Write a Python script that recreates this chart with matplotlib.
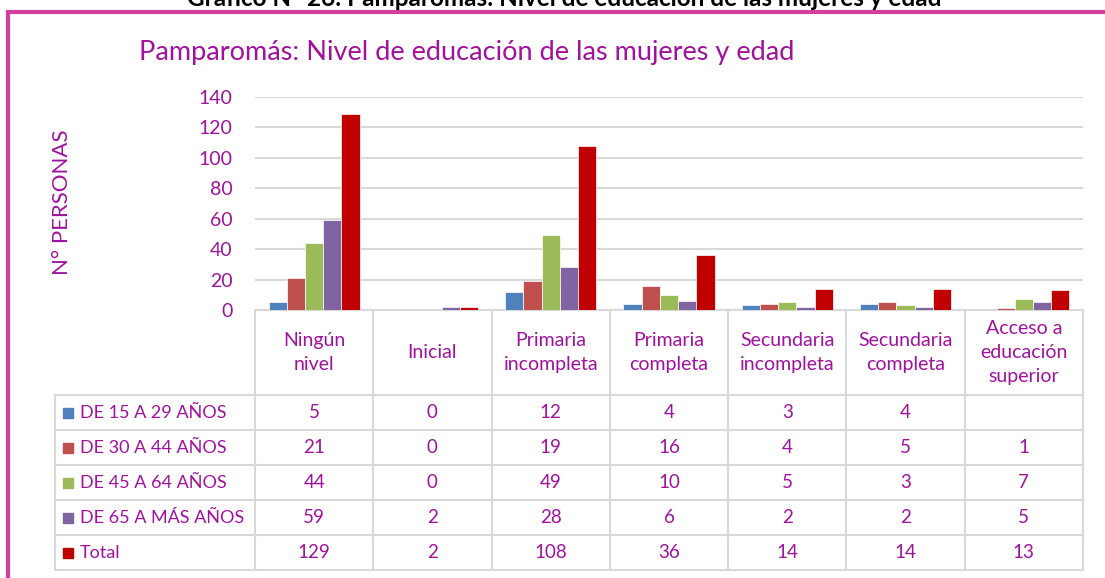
import numpy as np
import matplotlib
matplotlib.use("Agg")
from matplotlib import pyplot as plt
from matplotlib.patches import Rectangle

# Datos
categorias = ["Ningún\nnivel", "Inicial", "Primaria\nincompleta", "Primaria\ncompleta",
              "Secundaria\nincompleta", "Secundaria\ncompleta", "Acceso a\neducación\nsuperior"]
series = ["DE 15 A 29 AÑOS", "DE 30 A 44 AÑOS", "DE 45 A 64 AÑOS", "DE 65 A MÁS AÑOS", "Total"]
de15_29 = [5, 0, 12, 4, 3, 4, np.nan]
de30_44 = [21, 0, 19, 16, 4, 5, 1]
de45_64 = [44, 0, 49, 10, 5, 3, 7]
de65_mas = [59, 2, 28, 6, 2, 2, 5]
total = [129, 2, 108, 36, 14, 14, 13]
valores = [de15_29, de30_44, de45_64, de65_mas, total]
colores = ["#4F81BD", "#C0504D", "#9BBB59", "#8064A2", "#C00000"]
yticks = [0, 20, 40, 60, 80, 100, 120, 140]

txt = "#A0129E"
gris = "#D9D9D9"
fuente = "Lato"
W, H = 1105, 578

fig = plt.figure(figsize=(W / 100, H / 100), dpi=100)

# marco
fig.patches.append(Rectangle((8 / W, -0.05), 1.2, 1 - 12 / H + 0.05, transform=fig.transFigure,
                             fill=False, edgecolor="#D23F9F", lw=3))
fig.text(564 / W, 1 + 1 / H, "Gráfico N° 26: Pamparomás: Nivel de educación de las mujeres y edad",
         ha="center", va="center", fontsize=17.5, fontweight="bold", color="black", family=fuente)

# grafico de barras
ax = fig.add_axes([255 / W, 1 - 310 / H, (1083 - 255) / W, (310 - 97) / H])
n = len(categorias)
x = np.arange(n) + 0.5
ancho = 0.154
for k, (s, v, c) in enumerate(zip(series, valores, colores)):
    ax.bar(x + (k - 2) * ancho, v, ancho, color=c, edgecolor="white", lw=0.5, zorder=3)
ax.set_xlim(0, n)
ax.set_ylim(0, 140)
ax.set_yticks(yticks)
ax.set_xticks([])
ax.yaxis.grid(True, color=gris, lw=1.5, zorder=0)
for sp in ["top", "right", "left"]:
    ax.spines[sp].set_visible(False)
ax.spines["bottom"].set_color(gris)
ax.spines["bottom"].set_linewidth(1.5)
ax.tick_params(axis="y", length=0, pad=16, labelcolor=txt, labelsize=14)
for t in ax.get_yticklabels():
    t.set_family(fuente)
ax.set_title("Pamparomás: Nivel de educación de las mujeres y edad", color=txt, fontsize=19.5,
             family=fuente, loc="left", x=-0.14, y=1.135)
fig.text(62 / W, 1 - 202 / H, "N° PERSONAS", rotation=90, ha="center", va="center",
         color=txt, fontsize=16, family=fuente)

# tabla de datos
tax = fig.add_axes([55 / W, 1 - 570 / H, (1083 - 55) / W, (570 - 310) / H])
col_w = (1083 - 255) / n
x0 = -200 / col_w
tax.set_xlim(x0, n)
tax.set_ylim(260, 0)
tax.axis("off")
cab = 85
fila = 35
for i in range(n + 1):
    tax.plot([i, i], [0, 260], color=gris, lw=1.5, clip_on=False)
tax.plot([x0, x0], [cab, 260], color=gris, lw=1.5, clip_on=False)
for k in range(len(series) + 1):
    y = cab + k * fila
    tax.plot([x0, n], [y, y], color=gris, lw=1.5, clip_on=False)
for i, c in enumerate(categorias):
    tax.text(i + 0.5, cab / 2, c, ha="center", va="center", color=txt, fontsize=14,
             family=fuente, linespacing=1.5)
for k, (s, v, c) in enumerate(zip(series, valores, colores)):
    yc = cab + k * fila + fila / 2
    tax.plot([x0 + 13.5 / col_w], [yc], marker="s", markersize=7.5, color=c, clip_on=False)
    tax.text(x0 + 25 / col_w, yc, s, ha="left", va="center", color=txt, fontsize=13, family=fuente)
    for i, val in enumerate(v):
        if not np.isnan(val):
            tax.text(i + 0.5, yc, f"{int(val)}", ha="center", va="center", color=txt,
                     fontsize=13.5, family=fuente)

fig.savefig("out.png", dpi=100)
